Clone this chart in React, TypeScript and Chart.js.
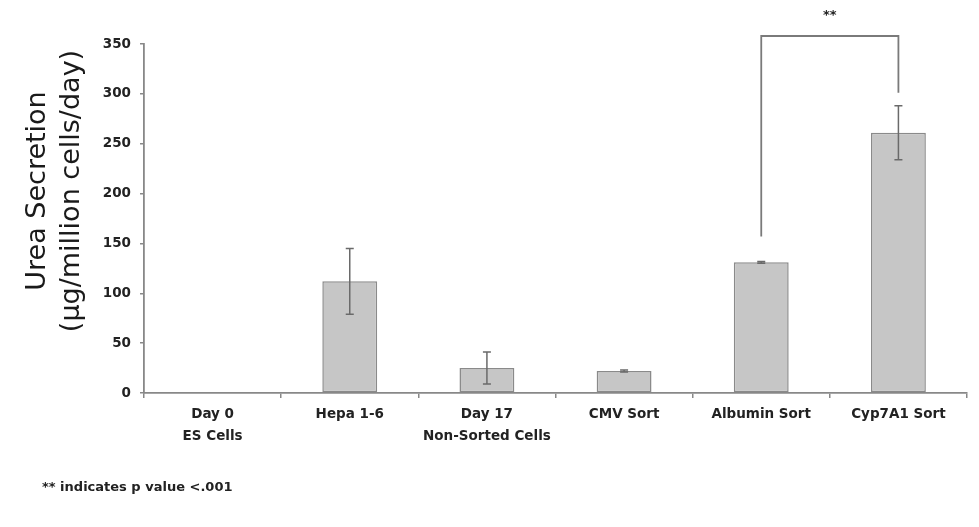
import React, { useEffect, useRef } from "react";
import { Chart, registerables } from "chart.js";

Chart.register(...registerables);

const categories: (string | string[])[] = [
  ["Day 0", "ES Cells"],
  "Hepa 1-6",
  ["Day 17", "Non-Sorted Cells"],
  "CMV Sort",
  "Albumin Sort",
  "Cyp7A1 Sort",
];
const means = [0, 112, 25, 22, 131, 261];
const errors = [0, 33, 16, 1, 1, 27];
const yTicks = [0, 50, 100, 150, 200, 250, 300, 350];
const yTitleLines = ["Urea Secretion", "(µg/million cells/day)"];
const bracketFrom = 4;
const bracketTo = 5;
const bracketTop = 358;
const bracketLeftBottom = 157;
const bracketRightBottom = 301;
const sigLabel = "**";
const footnote = "** indicates p value <.001";

const FONT = "'DejaVu Sans', 'Liberation Sans', sans-serif";

const overlayPlugin = {
  id: "overlay",
  afterDatasetsDraw(chart: any) {
    const ctx = chart.ctx;
    const x = chart.scales.x;
    const y = chart.scales.y;
    ctx.save();
    // error bars
    ctx.strokeStyle = "#6a6a6a";
    ctx.lineWidth = 1.5;
    means.forEach((m, i) => {
      const e = errors[i];
      if (!e) return;
      const cx = x.getPixelForValue(i);
      const top = y.getPixelForValue(m + e);
      const bot = y.getPixelForValue(m - e);
      ctx.beginPath();
      ctx.moveTo(cx, top);
      ctx.lineTo(cx, bot);
      ctx.moveTo(cx - 4, top);
      ctx.lineTo(cx + 4, top);
      ctx.moveTo(cx - 4, bot);
      ctx.lineTo(cx + 4, bot);
      ctx.stroke();
    });
    // bracket
    const lx = x.getPixelForValue(bracketFrom);
    const rx = x.getPixelForValue(bracketTo);
    const ty = y.getPixelForValue(bracketTop);
    ctx.strokeStyle = "#7a7a7a";
    ctx.lineWidth = 1.8;
    ctx.beginPath();
    ctx.moveTo(lx, y.getPixelForValue(bracketLeftBottom));
    ctx.lineTo(lx, ty);
    ctx.lineTo(rx, ty);
    ctx.lineTo(rx, y.getPixelForValue(bracketRightBottom));
    ctx.stroke();
    ctx.fillStyle = "#222";
    ctx.font = `bold 13px ${FONT}`;
    ctx.textAlign = "center";
    ctx.textBaseline = "middle";
    ctx.fillText(sigLabel, (lx + rx) / 2, ty - 20);
    // footnote
    ctx.textAlign = "left";
    ctx.font = `bold 13px ${FONT}`;
    ctx.fillText(footnote, 42, 488);
    // y title
    ctx.translate(0, 191);
    ctx.rotate(-Math.PI / 2);
    ctx.textAlign = "center";
    ctx.font = `27px ${FONT}`;
    ctx.fillStyle = "#1a1a1a";
    ctx.fillText(yTitleLines[0], 0, 38);
    ctx.fillText(yTitleLines[1], 0, 72);
    ctx.restore();
  },
};

export default function App() {
  const ref = useRef<HTMLCanvasElement>(null);
  useEffect(() => {
    if (!ref.current) return;
    const chart = new Chart(ref.current, {
      type: "bar",
      data: {
        labels: categories,
        datasets: [
          {
            data: means,
            backgroundColor: "#c6c6c6",
            borderColor: "#8a8a8a",
            borderWidth: 1.5,
            borderSkipped: false,
            barPercentage: 0.4,
            categoryPercentage: 1,
          },
        ],
      },
      options: {
        animation: false,
        responsive: true,
        maintainAspectRatio: false,
        layout: { padding: { left: 0, right: 12, top: 44, bottom: 0 } },
        plugins: { legend: { display: false }, tooltip: { enabled: false } },
        scales: {
          x: {
            offset: true,
            grid: {
              offset: true,
              drawOnChartArea: false,
              tickLength: 5,
              color: "#888",
              lineWidth: 1.5,
            },
            border: { color: "#888", width: 1.8 },
            ticks: {
              color: "#222",
              font: { family: FONT, size: 13.5, weight: "bold", lineHeight: 1.6 },
              padding: 6,
              maxRotation: 0,
              autoSkip: false,
            },
            afterFit(scale: any) {
              scale.height = 134;
            },
          },
          y: {
            min: 0,
            max: 350,
            afterBuildTicks(scale: any) {
              scale.ticks = yTicks.map((v) => ({ value: v }));
            },
            grid: {
              drawOnChartArea: false,
              tickLength: 4,
              color: "#888",
              lineWidth: 1.5,
            },
            border: { color: "#888", width: 1.8 },
            ticks: {
              color: "#222",
              font: { family: FONT, size: 13.5, weight: "bold" },
              padding: 9,
            },
            title: { display: false },
            afterFit(scale: any) {
              scale.width = 144;
            },
          },
        },
      },
      plugins: [overlayPlugin],
    });
    return () => chart.destroy();
  }, []);
  return (
    <div style={{ position: "fixed", left: 0, top: 0, width: 979, height: 527, background: "#fff" }}>
      <canvas ref={ref} />
    </div>
  );
}
